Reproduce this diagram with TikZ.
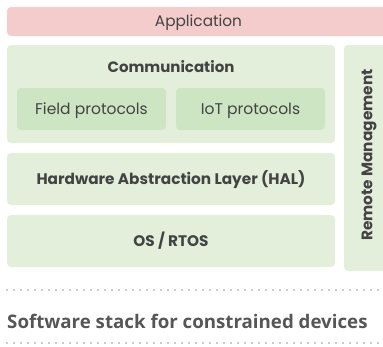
\documentclass[tikz,border=0pt]{standalone}
\usepackage{fontspec}
\setmainfont{Poppins}
\newfontfamily\captionfont{Open Sans}
\usepackage{xcolor}

\definecolor{appred}{HTML}{F4CCCC}
\definecolor{paleleaf}{HTML}{E3EFDB}
\definecolor{leaf}{HTML}{CDE5C3}
\definecolor{inkgray}{HTML}{434343}
\definecolor{dotgray}{HTML}{9A9A9A}

\tikzset{
  layer/.style={rounded corners=4pt, fill=paleleaf, inner sep=0pt,
    text height=10.7pt, text depth=0pt,
    text=inkgray, font=\bfseries\fontsize{15.3}{18}\selectfont},
  sublayer/.style={layer, fill=leaf, font=\fontsize{15.5}{18}\selectfont,
    minimum width=149pt, minimum height=42pt},
  rule/.style={dotgray, line width=1.6pt, line cap=round,
    dash pattern=on 0pt off 7pt}
}

\begin{document}
\begin{tikzpicture}[x=1pt, y=-1pt]
\useasboundingbox (0,0) rectangle (383,346);
\clip (0,0) rectangle (383,346);
\node[layer, fill=appred, font=\fontsize{15.3}{18}\selectfont,
  minimum width=383pt, minimum height=29pt] (app) at (198.5,21.5) {Application};
\node[layer, minimum width=328pt, minimum height=98pt] (comm) at (171,94) {};
\node[text=inkgray, inner sep=0pt, text height=10.7pt, text depth=0pt,
  font=\bfseries\fontsize{15}{18}\selectfont] (commlabel) at (171,67) {Communication};
\node[sublayer] (field) at (91.5,109) {Field protocols};
\node[sublayer] (iot) at (250.5,109) {IoT protocols};
\node[layer, minimum width=328pt, minimum height=52pt] (hal) at (171,179) {Hardware Abstraction Layer (HAL)};
\node[layer, minimum width=328pt, minimum height=52pt] (os) at (171,241) {OS / RTOS};
\node[layer, minimum width=46pt, minimum height=226pt] (remote) at (367,158) {};
\node[text=inkgray, inner sep=0pt, text height=10.7pt, text depth=0pt,
  font=\bfseries\fontsize{15.3}{18}\selectfont, rotate=90] (remotelabel) at (367,155) {Remote Management};
% dotted rules round the caption
\coordinate (ruleA) at (7,290);
\coordinate (ruleB) at (390,290);
\coordinate (ruleC) at (7,343);
\coordinate (ruleD) at (390,343);
\draw[rule] (ruleA) -- (ruleB);
\draw[rule] (ruleC) -- (ruleD);
\node[anchor=base west, inner sep=0pt, text=inkgray!90,
  font=\captionfont\bfseries\fontsize{18.7}{22}\selectfont] (caption) at (7,328) {Software stack for constrained devices};
\end{tikzpicture}
\end{document}
